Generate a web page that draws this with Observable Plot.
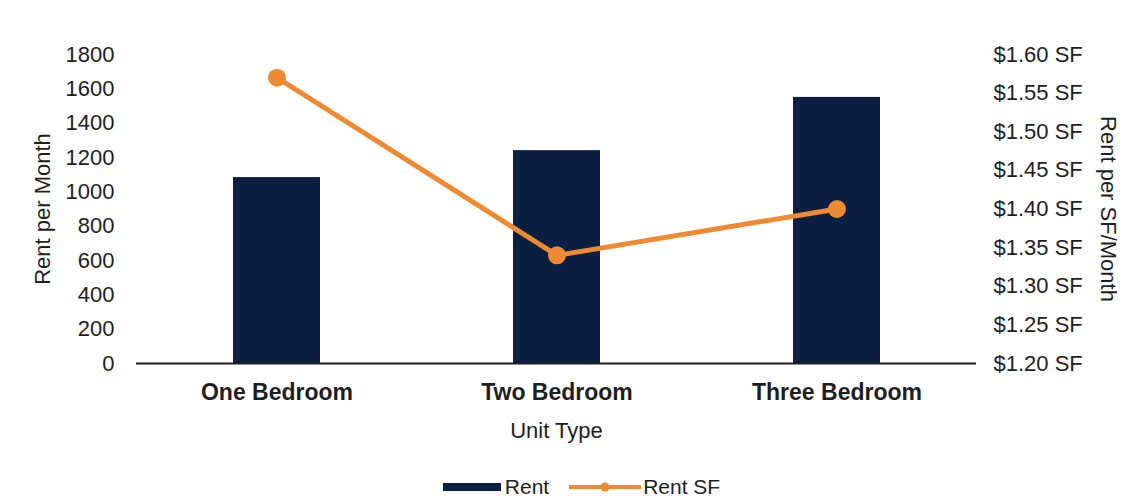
<!DOCTYPE html>
<html>
<head>
<meta charset="utf-8">
<script src="https://cdn.jsdelivr.net/npm/d3@7"></script>
<script src="https://cdn.jsdelivr.net/npm/@observablehq/plot@0.6"></script>
<style>
  html, body { margin: 0; padding: 0; background: #fff; }
  body { width: 1137px; height: 500px; overflow: hidden; font-family: "Liberation Sans", Arial, sans-serif; }
  #chart svg { display: block; }
  #legend { position: absolute; top: 475px; left: 0; width: 1137px; display: flex; justify-content: center; gap: 20px; font-size: 21px; color: #1e1e1e; font-family: "Liberation Sans", Arial, sans-serif; padding-left: 26px; box-sizing: border-box; }
  .item { display: flex; align-items: center; gap: 2px; line-height: 24px; }
</style>
</head>
<body>
<div id="chart"></div>
<div id="legend">
  <div class="item"><svg width="60" height="12"><rect x="0" y="2" width="58" height="8" fill="#0B1F42"></rect></svg><span>Rent</span></div>
  <div class="item"><svg width="72" height="14"><line x1="0" y1="7" x2="72" y2="7" stroke="#EE8A32" stroke-width="4"></line><circle cx="36" cy="7" r="4.5" fill="#EE8A32"></circle></svg><span>Rent SF</span></div>
</div>
<script>
const categories = ["One Bedroom", "Two Bedroom", "Three Bedroom"];
const rent = [1083, 1240, 1550];
const rentSF = [1.57, 1.34, 1.40];
const leftTicks = [0, 200, 400, 600, 800, 1000, 1200, 1400, 1600, 1800];
const rightTicks = [1.20, 1.25, 1.30, 1.35, 1.40, 1.45, 1.50, 1.55, 1.60];

const yMax = 1800, sfMin = 1.20, sfMax = 1.60;
const toLeft = v => (v - sfMin) / (sfMax - sfMin) * yMax;

const data = categories.map((c, i) => ({cat: c, rent: rent[i], sf: rentSF[i], sfY: toLeft(rentSF[i])}));

const navy = "#0B1F42", orange = "#EE8A32", ink = "#1e1e1e";

const chart = Plot.plot({
  width: 1137,
  height: 460,
  marginTop: 54,
  marginBottom: 97,
  marginLeft: 136,
  marginRight: 161,
  style: {fontFamily: "'Liberation Sans', Arial, sans-serif", fontSize: "22px", color: ink, background: "#fff"},
  x: {domain: categories, paddingInner: 0.69, paddingOuter: 0.345, label: null},
  y: {domain: [0, yMax], label: null},
  marks: [
    Plot.barY(data, {x: "cat", y: "rent", fill: navy}),
    Plot.ruleY([0], {stroke: ink, strokeWidth: 2}),
    Plot.line(data, {x: "cat", y: "sfY", stroke: orange, strokeWidth: 5}),
    Plot.dot(data, {x: "cat", y: "sfY", r: 9, fill: orange}),
    Plot.axisY(leftTicks, {anchor: "left", tickSize: 0, tickPadding: 22, fontSize: 22, label: null, tickFormat: d => String(d)}),
    Plot.axisY(rightTicks.map(toLeft), {anchor: "right", tickSize: 0, tickPadding: 17, fontSize: 22, label: null,
      tickFormat: d => "$" + (sfMin + d / yMax * (sfMax - sfMin)).toFixed(2) + " SF"}),
    Plot.axisX({tickSize: 0, tickPadding: 20, fontSize: 23, fontWeight: "bold", label: null}),
    Plot.text(["Unit Type"], {frameAnchor: "bottom", dy: 74, fontSize: 22, fill: ink}),
    Plot.text(["Rent per Month"], {frameAnchor: "left", textAnchor: "middle", dx: -94, rotate: -90, fontSize: 22, fill: ink}),
    Plot.text(["Rent per SF/Month"], {frameAnchor: "right", textAnchor: "middle", dx: 132, rotate: 90, fontSize: 22, fill: ink})
  ]
});
document.getElementById("chart").appendChild(chart);
</script>
</body>
</html>
